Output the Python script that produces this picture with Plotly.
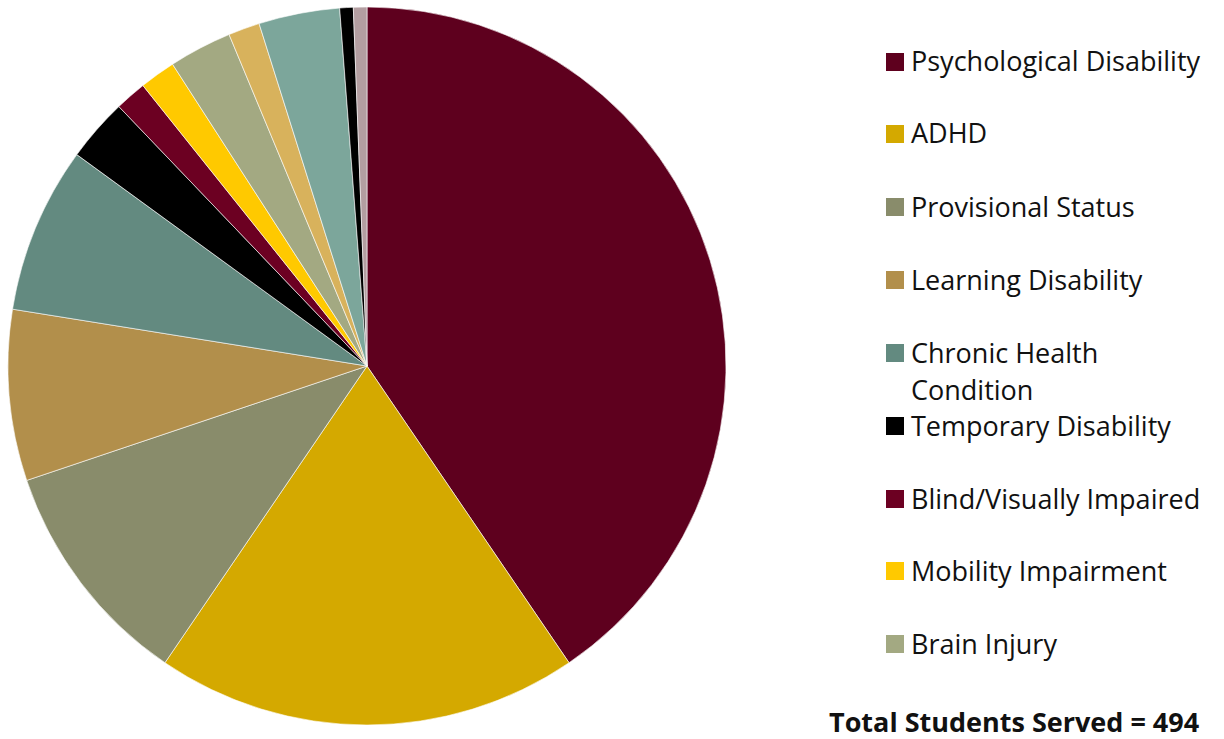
import plotly.graph_objects as go

W, H = 1224, 739

labels = ["Psychological Disability", "ADHD", "Provisional Status", "Learning Disability",
          "Chronic Health Condition", "Temporary Disability", "Blind/Visually Impaired",
          "Mobility Impairment", "Brain Injury", "Deaf/Hard of Hearing",
          "Autism Spectrum Disorder", "Speech/Language Impairment", "Other"]
values = [200, 94, 51, 38, 37, 14, 7, 8, 14, 7, 18, 3, 3]
colors = ["#5E001E", "#D4A900", "#898C6B", "#B28F4B", "#638A80", "#000000", "#6C0022",
          "#FFC900", "#A3A982", "#D8B25C", "#7CA69B", "#000000", "#B39EA1"]

legend_labels = ["Psychological Disability", "ADHD", "Provisional Status", "Learning Disability",
                 "Chronic Health|Condition", "Temporary Disability", "Blind/Visually Impaired",
                 "Mobility Impairment", "Brain Injury"]
legend_rows_px = [61, 133, 206, 279, 352, 425, 498, 570, 643]
total_text = "Total Students Served = 494"

FONT = "Open Sans"
FS = 27

fig = go.Figure()
fig.add_trace(go.Pie(
    labels=labels, values=values, sort=False, direction="clockwise", rotation=0,
    marker=dict(colors=colors, line=dict(color="white", width=0.6)),
    textinfo="none", hoverinfo="label+value", showlegend=False,
    domain=dict(x=[8 / W, 726 / W], y=[(H - 725) / H, (H - 7) / H]),
))

shapes = []
annotations = []
for i, lab in enumerate(legend_labels):
    yc = legend_rows_px[i]
    shapes.append(dict(type="rect", xref="paper", yref="paper",
                       x0=886 / W, x1=904 / W, y0=1 - (yc + 10) / H, y1=1 - (yc - 8) / H,
                       fillcolor=colors[i], line=dict(width=0)))
    for j, part in enumerate(lab.split("|")):
        annotations.append(dict(xref="paper", yref="paper", x=909 / W, y=1 - (yc + 37 * j) / H,
                                xanchor="left", yanchor="middle", showarrow=False,
                                text=part, font=dict(family=FONT, size=FS, color="#111111")))

annotations.append(dict(xref="paper", yref="paper", x=1014 / W, y=1 - 721 / H,
                        xanchor="center", yanchor="middle", showarrow=False,
                        text="<b>" + total_text + "</b>",
                        font=dict(family=FONT, size=27, color="#111111")))

fig.update_layout(width=W, height=H, margin=dict(l=0, r=0, t=0, b=0),
                  paper_bgcolor="white", plot_bgcolor="white",
                  shapes=shapes, annotations=annotations)

fig.write_html("out.html")
